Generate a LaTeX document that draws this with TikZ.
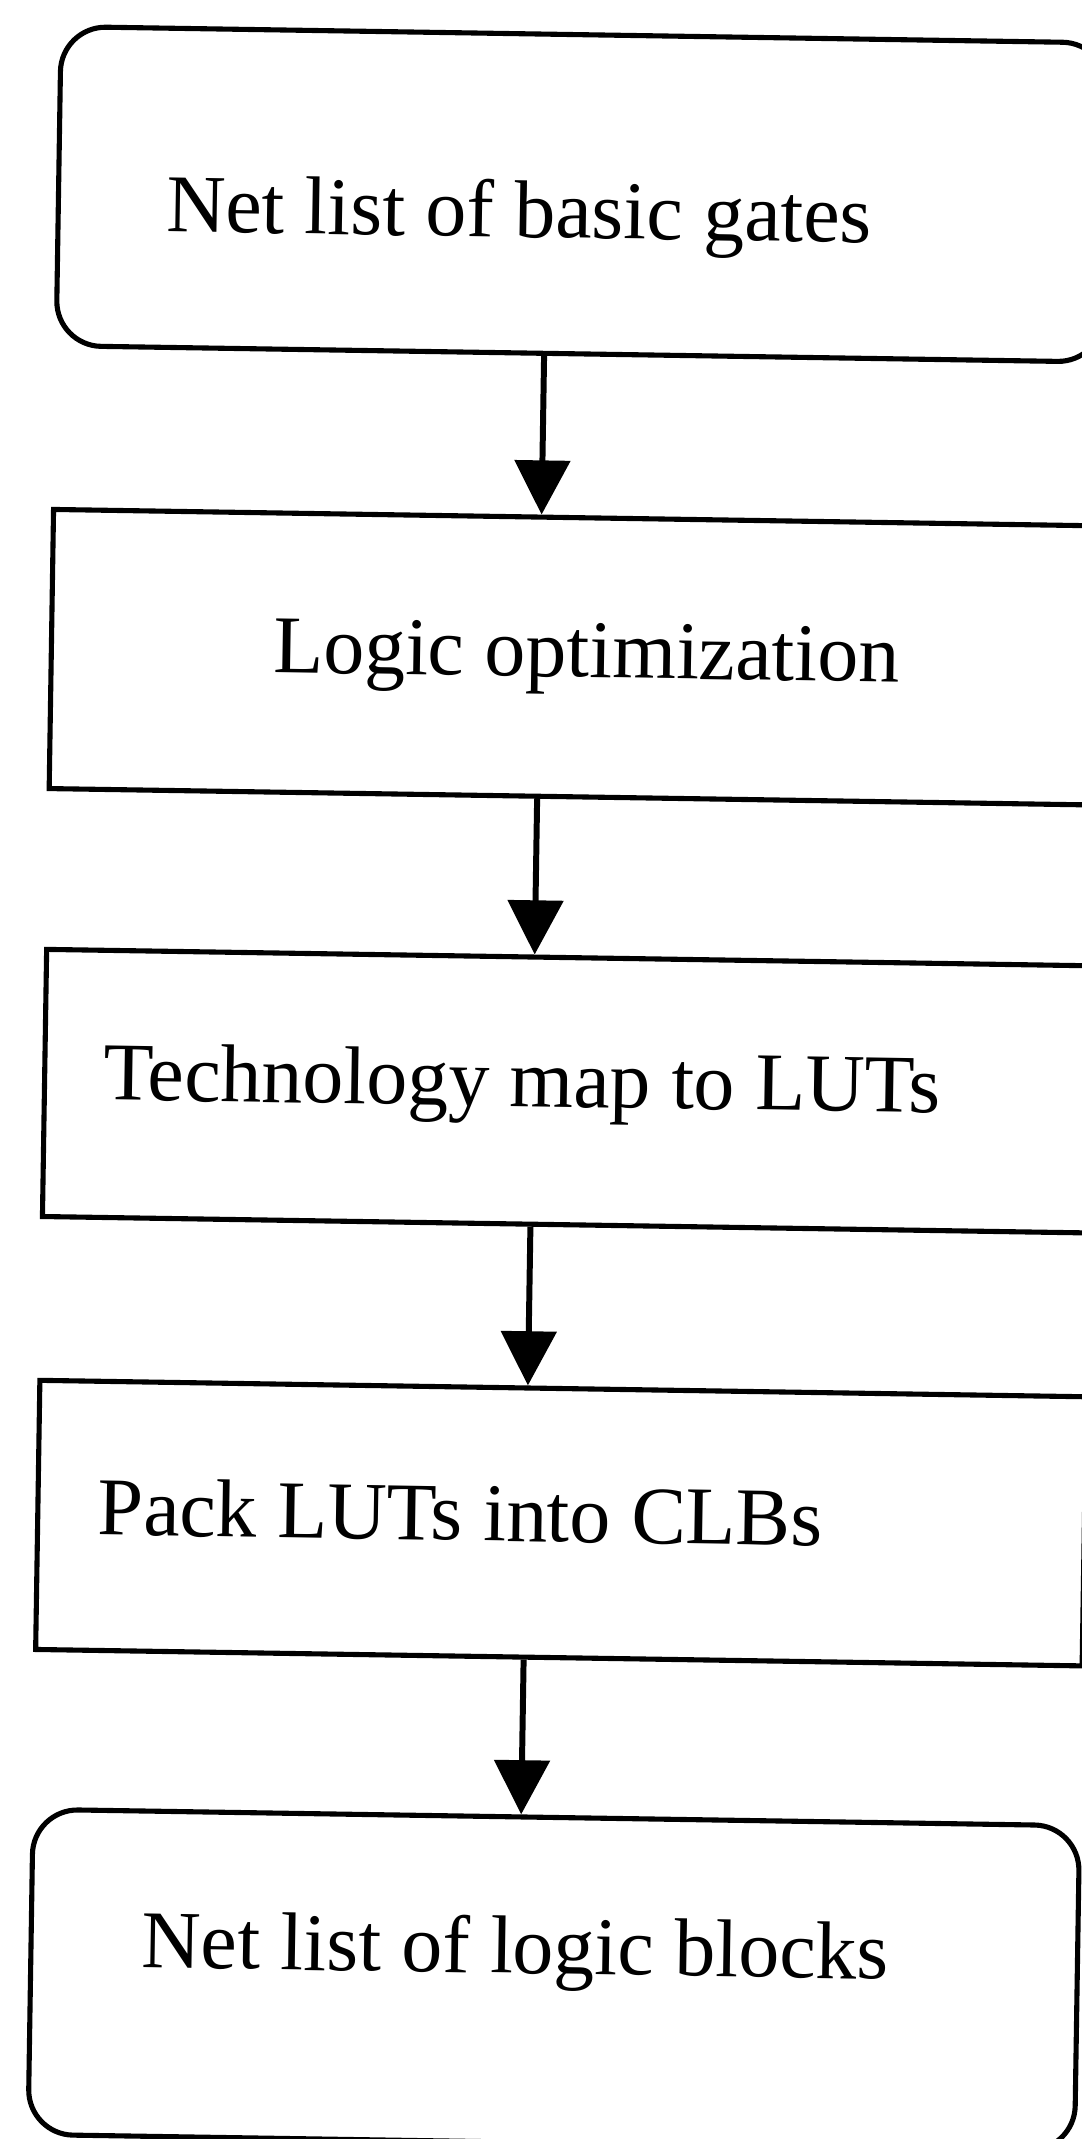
\documentclass[tikz,border=0pt]{standalone}
\usepackage{fontspec}
\setmainfont{Liberation Serif}
\usetikzlibrary{arrows.meta,calc}

\begin{document}
\begin{tikzpicture}[x=0.01cm,y=-0.01cm,
  box/.style={draw, line width=1.45pt, inner sep=0pt, anchor=north west,
              minimum width=10.46cm},
  rbox/.style={box, rounded corners=0.45cm},
  lbl/.style={inner sep=0pt, anchor=base west,
              font=\fontsize{23.3pt}{28pt}\selectfont},
  flow/.style={line width=1.7pt, -{Triangle[length=15.4pt,width=15.6pt]}}]
\useasboundingbox (0,0) rectangle (1082,2139);
\clip (0,0) rectangle (1082,2139);
\begin{scope}[rotate=-0.9, transform shape]
  % process boxes, top to bottom
  \node[rbox, minimum height=3.19cm] (b1) at (59,23)   {};
  \node[box,  minimum height=2.79cm] (b2) at (59,506)  {};
  \node[box,  minimum height=2.67cm] (b3) at (59,946)  {};
  \node[box,  minimum height=2.69cm] (b4) at (59,1377) {};
  \node[rbox, minimum height=3.25cm] (b5) at (59,1806) {};

  % box captions
  \node[lbl] (t1) at (169,229)  {Net list of basic gates};
  \node[lbl] (t2) at (283,668)  {Logic optimization};
  \node[lbl] (t3) at (120,1098) {Technology map to LUTs};
  \node[lbl] (t4) at (121,1533) {Pack LUTs into CLBs};
  \node[lbl] (t5) at (172,1965) {Net list of logic blocks};

  % flow arrows
  \foreach \a/\b in {b1/b2, b2/b3, b3/b4, b4/b5}
    \draw[flow] ($(\a.south west)!0.4665!(\a.south east)$)
             -- ($(\b.north west)!0.4665!(\b.north east)$);
\end{scope}
\end{tikzpicture}
\end{document}
